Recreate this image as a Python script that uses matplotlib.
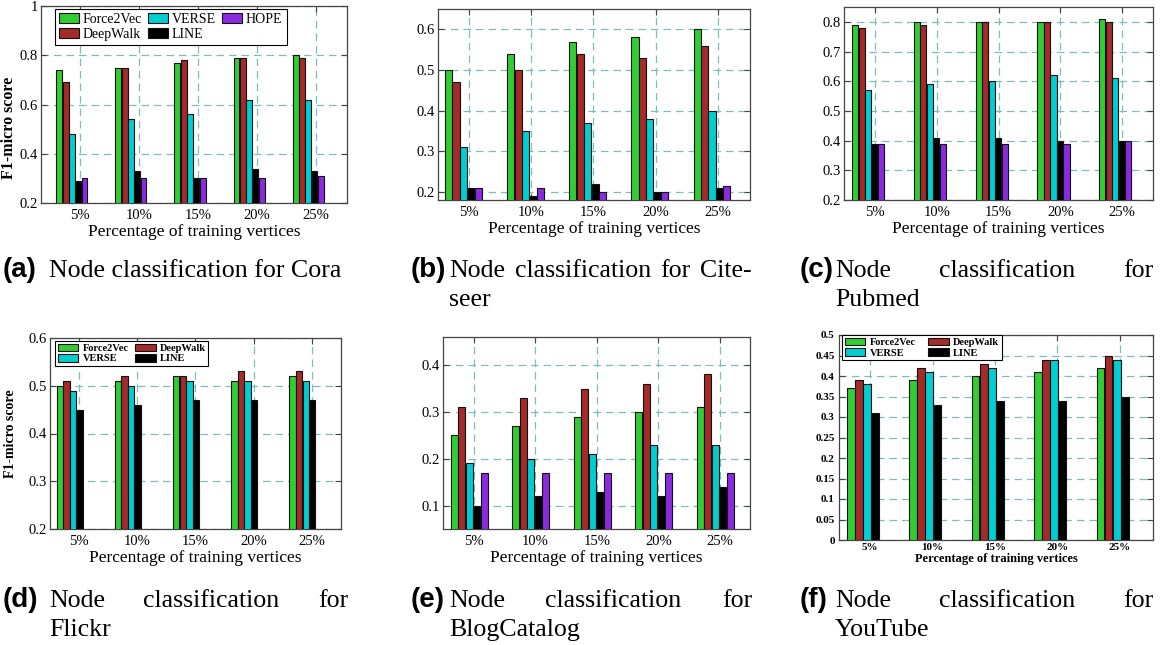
"""
Node classification results (F1-micro) for six datasets, grouped bars.
"""

import numpy as np
import matplotlib.pyplot as plt
from matplotlib.ticker import FuncFormatter

SERIF = "Liberation Serif"
SANS = "Liberation Sans"

# ── Data ─────────────────────────────────────────────────────────────────────

pcts = ["5%", "10%", "15%", "20%", "25%"]
methods = ["Force2Vec", "DeepWalk", "VERSE", "LINE", "HOPE"]

# rows: Force2Vec, DeepWalk, VERSE, LINE, HOPE
cora = [[0.74, 0.75, 0.77, 0.79, 0.80],
        [0.69, 0.75, 0.78, 0.79, 0.79],
        [0.48, 0.54, 0.56, 0.62, 0.62],
        [0.29, 0.33, 0.30, 0.34, 0.33],
        [0.30, 0.30, 0.30, 0.30, 0.31]]

citeseer = [[0.50, 0.54, 0.57, 0.58, 0.60],
            [0.47, 0.50, 0.54, 0.53, 0.56],
            [0.31, 0.35, 0.37, 0.38, 0.40],
            [0.21, 0.19, 0.22, 0.20, 0.21],
            [0.21, 0.21, 0.20, 0.20, 0.215]]

pubmed = [[0.79, 0.80, 0.80, 0.80, 0.81],
          [0.78, 0.79, 0.80, 0.80, 0.80],
          [0.57, 0.59, 0.60, 0.62, 0.61],
          [0.39, 0.41, 0.41, 0.40, 0.40],
          [0.39, 0.39, 0.39, 0.39, 0.40]]

# rows: Force2Vec, DeepWalk, VERSE, LINE
flickr = [[0.50, 0.51, 0.52, 0.51, 0.52],
          [0.51, 0.52, 0.52, 0.53, 0.53],
          [0.49, 0.50, 0.51, 0.51, 0.51],
          [0.45, 0.46, 0.47, 0.47, 0.47]]

blogcatalog = [[0.25, 0.27, 0.29, 0.30, 0.31],
               [0.31, 0.33, 0.35, 0.36, 0.38],
               [0.19, 0.20, 0.21, 0.23, 0.23],
               [0.10, 0.12, 0.13, 0.12, 0.14],
               [0.17, 0.17, 0.17, 0.17, 0.17]]

youtube = [[0.37, 0.39, 0.40, 0.41, 0.42],
           [0.39, 0.42, 0.43, 0.44, 0.45],
           [0.38, 0.41, 0.42, 0.44, 0.44],
           [0.31, 0.33, 0.34, 0.34, 0.35]]

colors = ["#32cd32", "#a52a2a", "#00ced1", "#000000", "#8a2be2"]

# ── Layout (pixels in a 1167x645 canvas) ─────────────────────────────────────

W, H = 1167, 645


def px_axes(fig, l, r, t, b):
    return fig.add_axes([l / W, 1 - b / H, (r - l) / W, (b - t) / H])


panels = [
    # c/s: bar offset centre and step (in group units), w: bar width
    dict(data=cora, box=(41, 347, 6, 203), xlim=(0.34, 5.52), ylim=(0.2, 1.0),
         yticks=[0.2, 0.4, 0.6, 0.8, 1.0], c=3.29, s=0.1065, w=0.1, bold=False),
    dict(data=citeseer, box=(438, 750, 9, 200), xlim=(0.5, 5.52), ylim=(0.18, 0.65),
         yticks=[0.2, 0.3, 0.4, 0.5, 0.6], c=2.77, s=0.119, w=0.115, bold=False),
    dict(data=pubmed, box=(844, 1153, 7, 200), xlim=(0.5, 5.5), ylim=(0.2, 0.85),
         yticks=[0.2, 0.3, 0.4, 0.5, 0.6, 0.7, 0.8], c=3.05, s=0.105, w=0.1, bold=False),
    dict(data=flickr, box=(50, 341, 338, 529), xlim=(0.5, 5.5), ylim=(0.2, 0.6),
         yticks=[0.2, 0.3, 0.4, 0.5, 0.6], c=2.95, s=0.112, w=0.11, bold=False),
    dict(data=blogcatalog, box=(443, 750, 337, 529), xlim=(0.5, 5.49), ylim=(0.05, 0.46),
         yticks=[0.1, 0.2, 0.3, 0.4], c=2.6, s=0.1215, w=0.115, bold=False),
    dict(data=youtube, box=(839, 1153, 335, 540), xlim=(0.5, 5.53), ylim=(0.0, 0.5),
         yticks=list(np.arange(0, 0.501, 0.05)), c=2.4, s=0.13, w=0.125, bold=True),
]

fig = plt.figure(figsize=(W / 100, H / 100), dpi=100)
fmt = FuncFormatter(lambda v, _: f"{v:g}")
x = np.arange(1, len(pcts) + 1)
axes = []

for p in panels:
    ax = px_axes(fig, *p["box"])
    axes.append(ax)
    handles = []
    for i, vals in enumerate(p["data"]):
        off = (i - p["c"]) * p["s"]
        h = ax.bar(x + off, vals, width=p["w"], color=colors[i],
                   edgecolor="#111111", linewidth=0.8, zorder=3)
        handles.append(h)
    p["handles"] = handles

    ax.set_xlim(*p["xlim"])
    ax.set_ylim(*p["ylim"])
    ax.set_xticks(x)
    ax.set_yticks(p["yticks"])
    ax.yaxis.set_major_formatter(fmt)
    ax.set_axisbelow(True)
    ax.grid(True, color="#7dbdbd", linestyle=(0, (6, 4)), linewidth=0.9)
    for sp in ax.spines.values():
        sp.set_color("#444444")
        sp.set_linewidth(0.9)
    ax.tick_params(direction="in", top=True, right=True, length=4,
                   color="#444444", width=0.8)

    if p["bold"]:
        ax.set_xticklabels(pcts, family=SERIF, fontsize=8, fontweight="bold")
        for lab in ax.get_yticklabels():
            lab.set_family(SERIF)
            lab.set_fontsize(8)
            lab.set_fontweight("bold")
        ax.tick_params(axis="x", pad=2)
        ax.tick_params(axis="y", pad=3)
        ax.set_xlabel("Percentage of training vertices", family=SERIF,
                      fontsize=9, fontweight="bold", labelpad=1)
    else:
        ax.set_xticklabels(pcts, family=SERIF, fontsize=10.5)
        for lab in ax.get_yticklabels():
            lab.set_family(SERIF)
            lab.set_fontsize(10.5)
        ax.tick_params(axis="x", pad=4)
        ax.tick_params(axis="y", pad=2)
        ax.set_xlabel("Percentage of training vertices", family=SERIF,
                      fontsize=12.5, labelpad=2)

# y labels
axes[0].set_ylabel("F1-micro score", family=SERIF, fontsize=11.5, fontweight="bold")
axes[0].yaxis.set_label_coords(-0.078, 0.38)
axes[3].set_ylabel("F1-micro score", family=SERIF, fontsize=10, fontweight="bold")
axes[3].yaxis.set_label_coords(-0.112, 0.5)

# legends
h = panels[0]["handles"]
leg = axes[0].legend(h, methods, ncol=3, loc="upper left",
                     bbox_to_anchor=(14 / 306, 1 - 3 / 197), borderaxespad=0,
                     prop=dict(family=SERIF, size=10), handlelength=1.4,
                     handleheight=0.75, handletextpad=0.3, columnspacing=0.45,
                     labelspacing=0.1, borderpad=0.3, fancybox=False,
                     framealpha=1, edgecolor="black")
leg.get_frame().set_linewidth(0.8)

for k, (dx, dy, bw) in zip([3, 5], [(5, 3, 291), (3, 0, 314)]):
    hh = panels[k]["handles"]
    leg = axes[k].legend([hh[0], hh[2], hh[1], hh[3]],
                         ["Force2Vec", "VERSE", "DeepWalk", "LINE"], ncol=2,
                         loc="upper left", bbox_to_anchor=(dx / bw, 1 - dy / 195),
                         borderaxespad=0,
                         prop=dict(family=SERIF, size=7.5, weight="bold"),
                         handlelength=2.0, handleheight=0.75, handletextpad=0.4,
                         columnspacing=0.6 if k == 3 else 1.2,
                         labelspacing=0.1, borderpad=0.25,
                         fancybox=False, framealpha=1, edgecolor="black")
    leg.get_frame().set_linewidth(0.8)

# ── Captions ─────────────────────────────────────────────────────────────────

CAP = 18.6
renderer = fig.canvas.get_renderer()


def caption_text(xp, yp, s, **kw):
    return fig.text(xp / W, 1 - yp / H, s, va="baseline", **kw)


def justified(words, x0, x1, yp):
    arts = [caption_text(0, yp, w, family=SERIF, fontsize=CAP) for w in words]
    widths = [a.get_window_extent(renderer).width for a in arts]
    gap = ((x1 - x0) - sum(widths)) / (len(words) - 1)
    xp = x0
    for a, w in zip(arts, widths):
        a.set_x(xp / W)
        xp += w + gap


captions = [
    ("(a)", 3, 49, 341, 277, ["Node classification for Cora"], None),
    ("(b)", 411, 449, 752, 277, ["Node", "classification", "for", "Cite-"], "seer"),
    ("(c)", 800, 835, 1153, 277, ["Node", "classification", "for"], "Pubmed"),
    ("(d)", 3, 49, 348, 607, ["Node", "classification", "for"], "Flickr"),
    ("(e)", 411, 449, 752, 607, ["Node", "classification", "for"], "BlogCatalog"),
    ("(f)", 800, 835, 1153, 607, ["Node", "classification", "for"], "YouTube"),
]

for lab, xl, x0, x1, yp, words, second in captions:
    caption_text(xl, yp, lab, family=SANS, fontweight="bold", fontsize=20)
    if len(words) == 1:
        caption_text(x0, yp, words[0], family=SERIF, fontsize=CAP)
    else:
        justified(words, x0, x1, yp)
    if second:
        caption_text(x0, yp + 29, second, family=SERIF, fontsize=CAP)

fig.savefig("out.png", dpi=100)
